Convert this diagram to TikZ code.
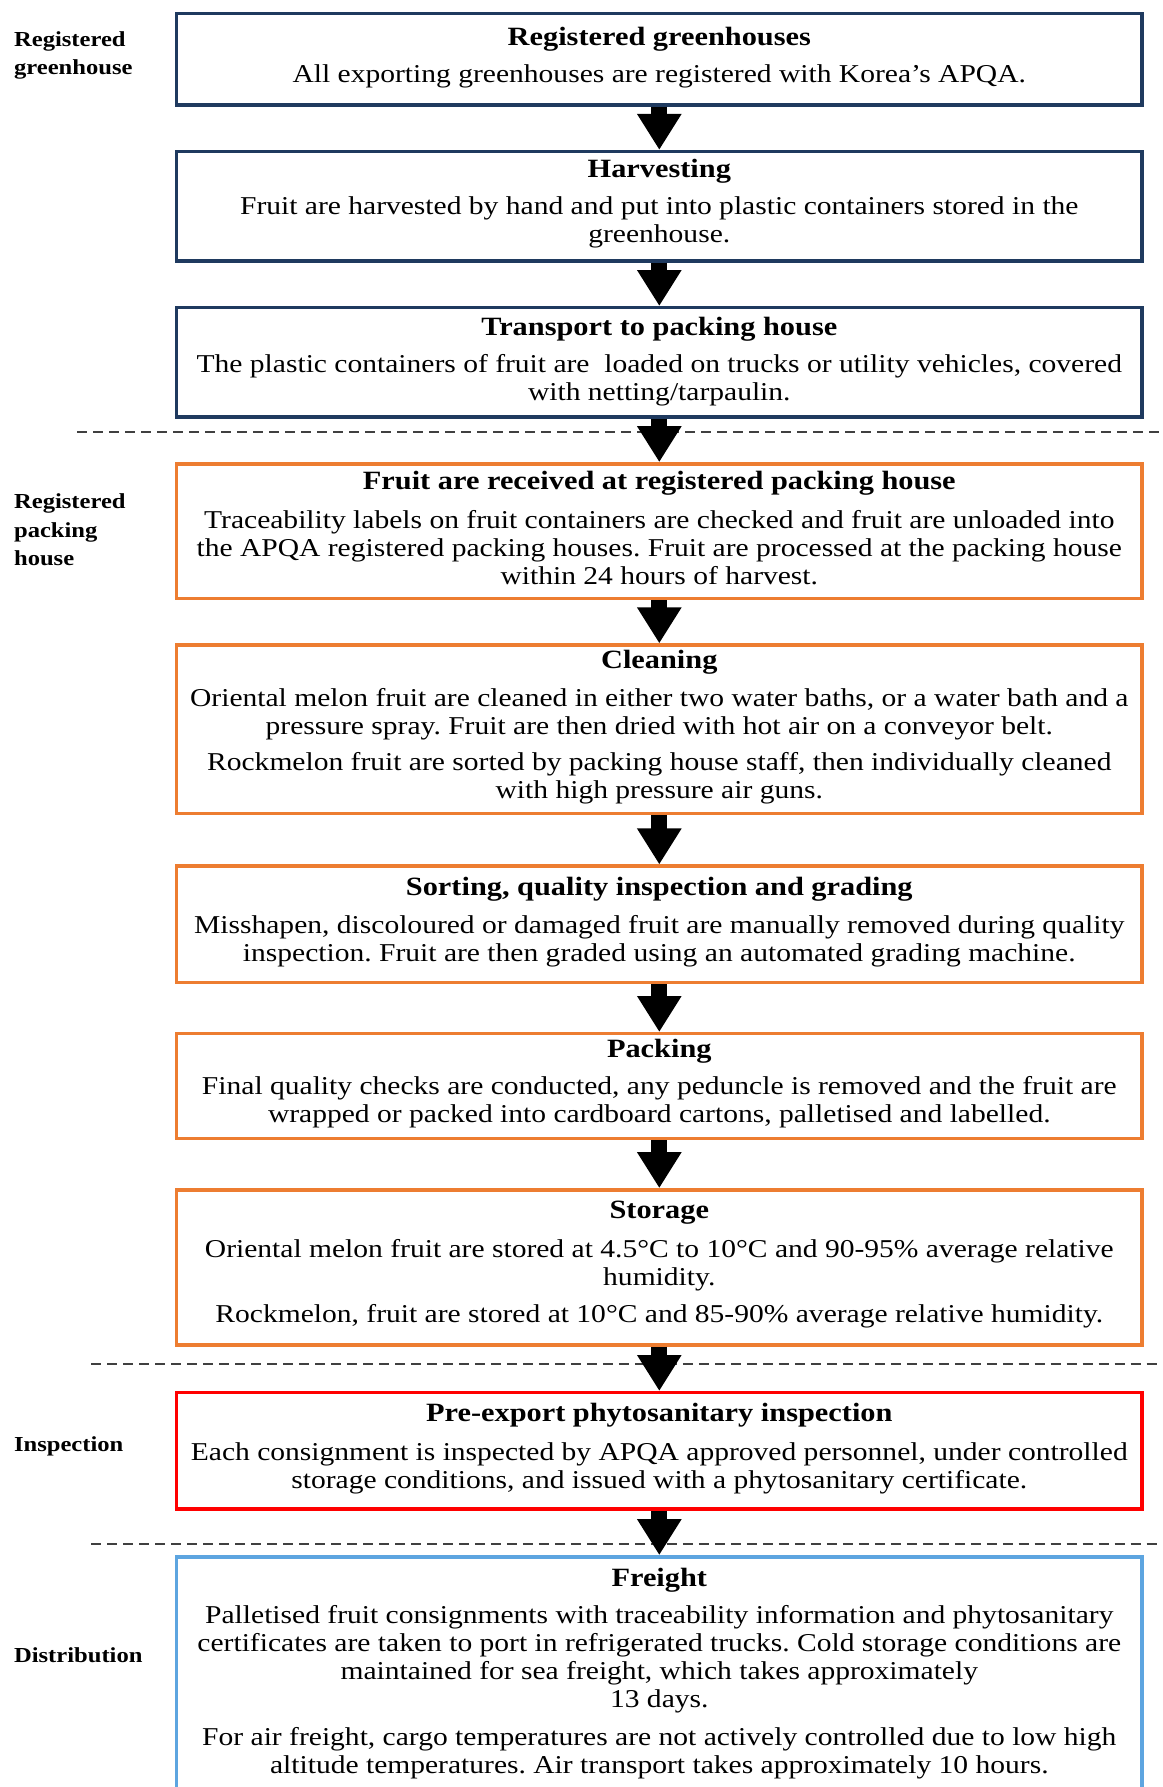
\documentclass[tikz,border=0pt]{standalone}
\usepackage{fontspec}
\setmainfont{Liberation Serif}[FakeStretch=1.15]
\usetikzlibrary{arrows.meta}
\definecolor{navy}{HTML}{1F3A5F}
\definecolor{orng}{HTML}{ED7D31}
\definecolor{redb}{HTML}{FF0000}
\definecolor{bluey}{HTML}{5DA5E0}
\definecolor{dashgray}{HTML}{404040}
\begin{document}
\frenchspacing
\begin{tikzpicture}[x=0.5701pt,y=-0.5701pt,
 box/.style={draw,line width=1.7pt,minimum width=482.9pt,inner sep=0pt},
 ttl/.style={font=\frenchspacing\bfseries\fontsize{13.2}{15}\selectfont,inner sep=0pt},
 txt/.style={font=\frenchspacing\fontsize{12.85}{14}\selectfont,align=center,inner sep=0pt},
 side/.style={font=\bfseries\fontsize{10.7}{14.2}\selectfont,align=left,anchor=west,inner sep=0pt},
 flow/.style={line width=8pt,-{Triangle[width=21pt,length=18pt]}},
 sepline/.style={draw=dashgray,line width=0.8pt,dash pattern=on 5pt off 3pt}
]
\useasboundingbox (0,0) rectangle (1020,1568);
\clip (0,0) rectangle (1020,1568);
\fill[white] (0,0) rectangle (1020,1568);

% boxes
\node[box,draw=navy,minimum height=45.61pt] (b1) at (578.5,52) {};
\node[box,draw=navy,minimum height=54.73pt] (b2) at (578.5,181) {};
\node[box,draw=navy,minimum height=54.73pt] (b3) at (578.5,318) {};
\node[box,draw=orng,minimum height=67.27pt] (b4) at (578.5,466) {};
\node[box,draw=orng,minimum height=84.37pt] (b5) at (578.5,640) {};
\node[box,draw=orng,minimum height=58.15pt] (b6) at (578.5,811) {};
\node[box,draw=orng,minimum height=52.45pt] (b7) at (578.5,953) {};
\node[box,draw=orng,minimum height=77.53pt] (b8) at (578.5,1112) {};
\node[box,draw=redb,minimum height=58.15pt] (b9) at (578.5,1273) {};
\node[box,draw=bluey,minimum height=156.2pt] (b10) at (578.5,1503) {};

% section separators
\coordinate (s1a) at (68,379);  \coordinate (s1b) at (1018,379);
\coordinate (s2a) at (80,1197); \coordinate (s2b) at (1018,1197);
\coordinate (s3a) at (80,1355); \coordinate (s3b) at (1018,1355);
\draw[sepline] (s1a) -- (s1b);
\draw[sepline] (s2a) -- (s2b);
\draw[sepline] (s3a) -- (s3b);

% arrows
\draw[flow] (b1.south) -- (b2.north);
\draw[flow] (b2.south) -- (b3.north);
\draw[flow] (b3.south) -- (b4.north);
\draw[flow] (b4.south) -- (b5.north);
\draw[flow] (b5.south) -- (b6.north);
\draw[flow] (b6.south) -- (b7.north);
\draw[flow] (b7.south) -- (b8.north);
\draw[flow] (b8.south) -- (b9.north);
\draw[flow] (b9.south) -- (b10.north);

% side labels
\node[side] (l1) at (12,48.5) {Registered\\greenhouse};
\node[side] (l2) at (12,465) {Registered\\packing\\house};
\node[side] (l3) at (12,1269) {Inspection};
\node[side] (l4) at (12,1452) {Distribution};

% texts
\node[ttl] (t1) at (578.5,34) {Registered greenhouses};
\node[txt] (x1) at (578.5,67) {All exporting greenhouses are registered with Korea's APQA.};

\node[ttl] (t2) at (578.5,150) {Harvesting};
\node[txt] (x2) at (578.5,195.5) {Fruit are harvested by hand and put into plastic containers stored in the\\greenhouse.};

\node[ttl] (t3) at (578.5,289) {Transport to packing house};
\node[txt] (x3) at (578.5,334) {The plastic containers of fruit are~ loaded on trucks or utility vehicles, covered\\with netting/tarpaulin.};

\node[ttl] (t4) at (578.5,424) {Fruit are received at registered packing house};
\node[txt] (x4) at (578.5,480.5) {Traceability labels on fruit containers are checked and fruit are unloaded into\\the APQA registered packing houses. Fruit are processed at the packing house\\within 24 hours of harvest.};

\node[ttl] (t5) at (578.5,581) {Cleaning};
\node[txt] (x5a) at (578.5,626.5) {Oriental melon fruit are cleaned in either two water baths, or a water bath and a\\pressure spray. Fruit are then dried with hot air on a conveyor belt.};
\node[txt] (x5b) at (578.5,682.5) {Rockmelon fruit are sorted by packing house staff, then individually cleaned\\with high pressure air guns.};

\node[ttl] (t6) at (578.5,780) {Sorting, quality inspection and grading};
\node[txt] (x6) at (578.5,825.5) {Misshapen, discoloured or damaged fruit are manually removed during quality\\inspection. Fruit are then graded using an automated grading machine.};

\node[ttl] (t7) at (578.5,922) {Packing};
\node[txt] (x7) at (578.5,967.5) {Final quality checks are conducted, any peduncle is removed and the fruit are\\wrapped or packed into cardboard cartons, palletised and labelled.};

\node[ttl] (t8) at (578.5,1064) {Storage};
\node[txt] (x8a) at (578.5,1110) {Oriental melon fruit are stored at 4.5°C to 10°C and 90-95\% average relative\\humidity.};
\node[txt] (x8b) at (578.5,1155) {Rockmelon, fruit are stored at 10°C and 85-90\% average relative humidity.};

\node[ttl] (t9) at (578.5,1242) {Pre-export phytosanitary inspection};
\node[txt] (x9) at (578.5,1288.5) {Each consignment is inspected by APQA approved personnel, under controlled\\storage conditions, and issued with a phytosanitary certificate.};

\node[ttl] (t10) at (578.5,1387) {Freight};
\node[txt] (x10a) at (578.5,1456.25) {Palletised fruit consignments with traceability information and phytosanitary\\certificates are taken to port in refrigerated trucks. Cold storage conditions are\\maintained for sea freight, which takes approximately\\13 days.};
\node[txt] (x10b) at (578.5,1538) {For air freight, cargo temperatures are not actively controlled due to low high\\altitude temperatures. Air transport takes approximately 10 hours.};
\end{tikzpicture}
\end{document}
